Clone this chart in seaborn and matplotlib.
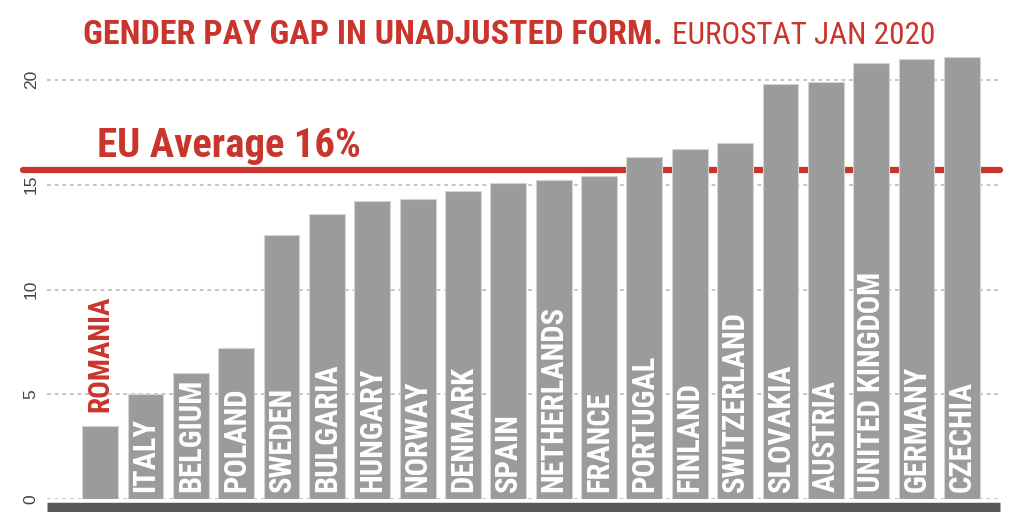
import numpy as np
import matplotlib
matplotlib.use('Agg')
import matplotlib.pyplot as plt
from matplotlib import font_manager
import seaborn as sns
import pandas as pd

# ==========================================
# DATA
# ==========================================
countries = ['ROMANIA', 'ITALY', 'BELGIUM', 'POLAND', 'SWEDEN', 'BULGARIA',
             'HUNGARY', 'NORWAY', 'DENMARK', 'SPAIN', 'NETHERLANDS', 'FRANCE',
             'PORTUGAL', 'FINLAND', 'SWITZERLAND', 'SLOVAKIA', 'AUSTRIA',
             'UNITED KINGDOM', 'GERMANY', 'CZECHIA']
pay_gap = [3.5, 5.0, 6.0, 7.2, 12.6, 13.6, 14.2, 14.3, 14.7, 15.1, 15.2, 15.4,
           16.3, 16.7, 17.0, 19.8, 19.9, 20.8, 21.0, 21.1]
eu_average = 15.7
y_ticks = [0, 5, 10, 15, 20]

title_bold = 'GENDER PAY GAP IN UNADJUSTED FORM.'
title_light = 'EUROSTAT JAN 2020'
avg_label = 'EU Average 16%'
highlight = 'ROMANIA'

df = pd.DataFrame({'country': countries, 'gap': pay_gap})

RED = '#c9352c'
BAR = '#9b9b9b'

# condensed face for all the headline type
available = {f.name for f in font_manager.fontManager.ttflist}
narrow = 'Roboto Condensed' if 'Roboto Condensed' in available else 'Liberation Sans'
NARROW = [narrow, 'DejaVu Sans']

# ==========================================
# FIGURE
# ==========================================
sns.set_style('white')
plt.rcParams['font.family'] = ['Liberation Sans', 'DejaVu Sans']

fig = plt.figure(figsize=(10.24, 5.12), dpi=100)
ax = fig.add_axes([47 / 1024, 12.7 / 512, 953 / 1024, 472 / 512])

sns.barplot(data=df, x='country', y='gap', color=BAR, saturation=1,
            width=0.79, edgecolor='#d4d4d4', linewidth=0.8, ax=ax, zorder=2)

ax.set_xlim(-1.17, 19.84)
ax.set_ylim(0, 22.5)
ax.set_yticks(y_ticks)
ax.set_yticklabels([str(t) for t in y_ticks], rotation=90, va='center',
                   fontsize=12.5, color='#444444')
ax.tick_params(axis='y', length=0, pad=6)
ax.set_xticks([])
ax.set_xlabel('')
ax.set_ylabel('')
ax.yaxis.grid(True, linestyle=(0, (2.5, 2.5)), color='#b5b5b5', linewidth=1.1)
ax.set_axisbelow(True)

for side in ['top', 'right', 'left']:
    ax.spines[side].set_visible(False)
ax.spines['bottom'].set_position(('outward', 5.9))
ax.spines['bottom'].set_linewidth(6.8)
ax.spines['bottom'].set_color('#585858')
ax.spines['bottom'].set_capstyle('butt')

# EU average line
ax.axhline(eu_average, xmin=-0.025, xmax=1.0, color=RED, linewidth=4.5,
           zorder=1, clip_on=False)
ax.text(-0.06, 16.3, avg_label, color=RED, fontsize=29.3, fontweight='bold',
        family=NARROW, ha='left', va='baseline')

# bar labels
for i, (name, val) in enumerate(zip(countries, pay_gap)):
    if name == highlight:
        ax.text(i, val + 0.65, name, rotation=90, ha='center', va='bottom',
                color=RED, fontsize=21, fontweight='bold', family=NARROW)
    else:
        ax.text(i, 0.35, name, rotation=90, ha='center', va='bottom',
                color='white', fontsize=22, fontweight='bold', family=NARROW,
                zorder=3)

# title in two weights
base_y = 1 - 43.5 / 512
t1 = fig.text(83 / 1024, base_y, title_bold, color=RED, fontsize=24.5,
              fontweight='bold', family=NARROW, ha='left', va='baseline')
fig.canvas.draw()
bb = t1.get_window_extent()
fig.text((bb.x1 + 9) / 1024, base_y, title_light, color=RED,
         fontsize=22.5, fontweight='normal', family=NARROW,
         ha='left', va='baseline')

fig.savefig('out.png', dpi=100)
